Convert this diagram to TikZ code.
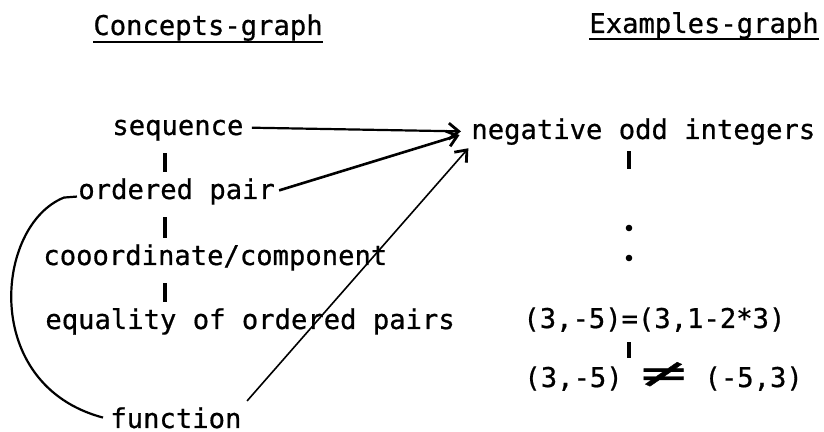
\documentclass[tikz,border=0pt]{standalone}
\usepackage{fontspec}
\setmonofont[FakeBold=0.7]{DejaVu Sans Mono}
\usepackage{graphicx}
\usetikzlibrary{calc, arrows.meta}

\begin{document}
\ttfamily\fontsize{13.6}{16}\selectfont
\begin{tikzpicture}[x=0.5pt, y=-0.5pt,
    txt/.style={inner sep=0pt, anchor=base west, font=\ttfamily\fontsize{13.6}{16}\selectfont},
    link/.style={line width=1.1pt},
    tip/.style={line width=1.1pt, -{Straight Barb[length=5pt, width=8pt, line width=1.4pt]}},
    bar/.style={line width=1.7pt, shorten <=6pt, shorten >=3pt},
    dot/.style={circle, fill, inner sep=0pt, minimum size=3.3pt}]
    \useasboundingbox (0,0) rectangle (824,432);

    % headings
    \node[txt] (concepts) at (93,35) {Concepts-graph};
    \node[txt] (examples) at (589,33) {Examples-graph};
    \draw[line width=1.4pt] ($(concepts.base west)+(0,7)$) -- ($(concepts.base east)+(0,7)$);
    \draw[line width=1.4pt] ($(examples.base west)+(0,6)$) -- ($(examples.base east)+(0,6)$);

    % concepts
    \node[txt] (seq) at (112,135) {sequence};
    \node[txt] (pair) at (78,199) {ordered pair};
    \node[txt] (coord) at (43,265) {cooordinate/component};
    \node[txt] (equal) at (45,329) {equality of ordered pairs};
    \node[txt] (func) at (110,428) {function};

    % examples
    \node[txt] (neg) at (471,139) {negative odd integers};
    \node[dot] (dot1) at (629,228) {};
    \node[dot] (dot2) at (629,258) {};
    \node[txt] (eqex) at (523,328) {(3,-5)=(3,1-2*3)};
    \node[txt] (neqex) at (524,387) {(3,-5) \makebox[3\fontcharwd\font`\x]{\scalebox{2.8}[1.5]{≠}} (-5,3)};

    % vertical links
    \coordinate (lbar) at (165,0);
    \coordinate (rbar) at (629,0);
    \draw[bar] (seq.south -| lbar) -- (pair.north -| lbar);
    \draw[bar] (pair.south -| lbar) -- (coord.north -| lbar);
    \draw[bar] (coord.south -| lbar) -- (equal.north -| lbar);
    \draw[line width=1.7pt] (neg.south -| rbar) ++(0,6) -- ++(0,18);
    \draw[bar, shorten <=5pt, shorten >=2pt] (eqex.south -| rbar) -- (neqex.north -| rbar);

    % arrows into the examples
    \draw[tip, shorten <=4pt, shorten >=5pt] (seq.mid east) -- (neg.mid west);
    \draw[tip, line width=1.3pt, shorten <=2pt, shorten >=6pt] (pair.mid east) -- (neg.mid west);
    \draw[tip, line width=0.8pt, shorten <=4pt, shorten >=2pt] (func.north east) -- (neg.south west);

    % ordered pair to function
    \draw[link] ($(pair.mid west)+(-1,5)$) -- ++(-13,1)
        .. controls (-5,225) and (-20,385) .. ($(func.mid west)+(-7,-3)$);
\end{tikzpicture}
\end{document}
